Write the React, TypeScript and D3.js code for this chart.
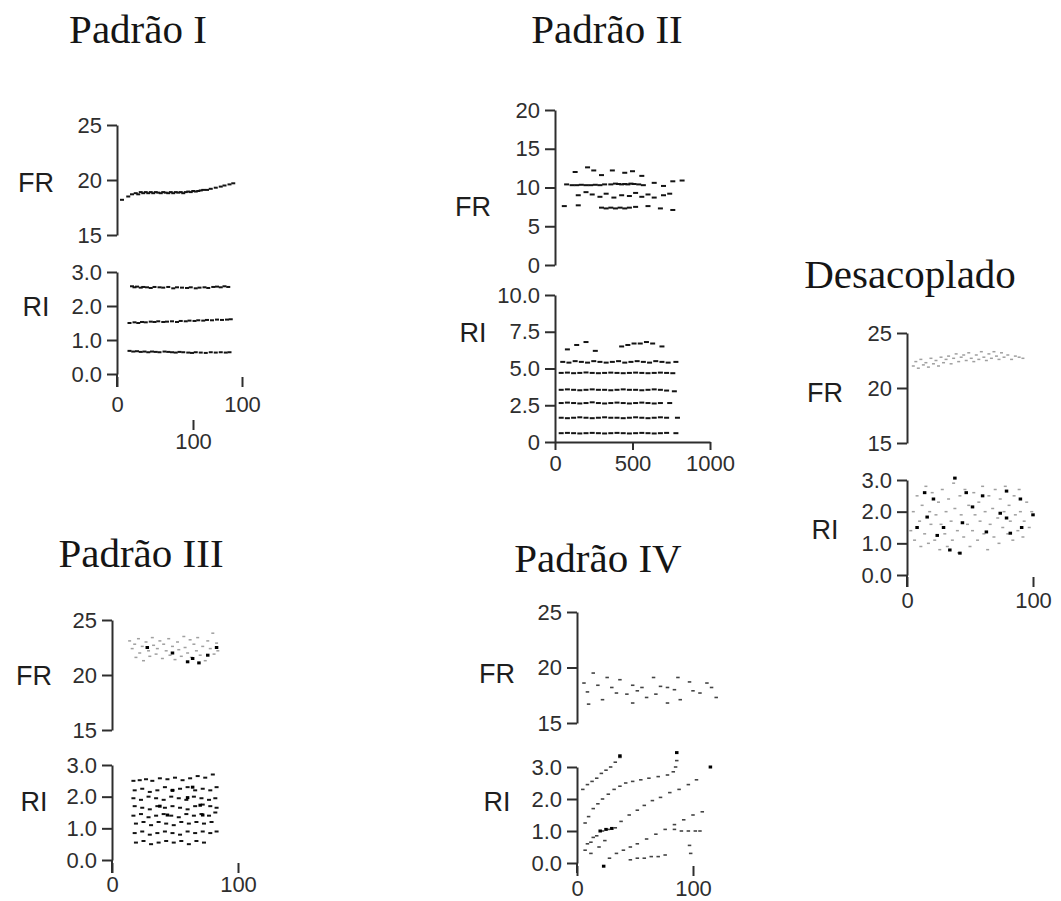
import React, { useEffect, useRef } from "react";
import * as d3 from "d3";

type Pt = [number, number];

// ---------- Padrão I ----------
const p1FR: Pt[] = [
  [4, 18.2], [9, 18.5], [12, 18.7], [15, 18.8], [17, 18.7], [19, 18.9], [21, 18.8], [23, 18.9], [25, 18.8],
  [27, 18.9], [29, 18.8], [31, 18.9], [33, 18.85], [35, 18.8], [37, 18.9], [39, 18.85], [41, 18.8], [43, 18.9],
  [45, 18.8], [47, 18.9], [49, 18.85], [51, 18.9], [53, 18.8], [55, 18.9], [57, 18.95], [59, 18.9], [61, 19.0],
  [63, 18.95], [65, 19.0], [67, 19.05], [69, 19.1], [72, 19.1], [75, 19.2], [79, 19.3], [83, 19.4], [86, 19.5],
  [90, 19.6], [93, 19.7],
];
const p1RI: Pt[] = [
  [12, 2.58], [14, 2.55], [16, 2.57], [19, 2.54], [21, 2.56], [24, 2.55], [27, 2.53], [30, 2.56], [34, 2.55],
  [37, 2.54], [41, 2.56], [45, 2.52], [48, 2.55], [52, 2.54], [56, 2.53], [59, 2.55], [63, 2.52], [66, 2.54],
  [70, 2.55], [73, 2.53], [77, 2.56], [80, 2.57], [83, 2.55], [86, 2.58], [89, 2.56],
  [10, 1.5], [14, 1.52], [17, 1.5], [20, 1.53], [23, 1.52], [27, 1.54], [30, 1.53], [33, 1.55], [37, 1.53],
  [40, 1.54], [44, 1.55], [48, 1.53], [51, 1.56], [55, 1.55], [58, 1.57], [62, 1.56], [65, 1.58], [69, 1.57],
  [72, 1.59], [76, 1.58], [80, 1.6], [84, 1.59], [88, 1.6], [91, 1.61],
  [10, 0.68], [13, 0.66], [16, 0.67], [19, 0.65], [22, 0.66], [25, 0.64], [28, 0.66], [31, 0.65], [34, 0.64],
  [38, 0.66], [41, 0.65], [44, 0.64], [47, 0.63], [50, 0.65], [53, 0.64], [57, 0.63], [60, 0.62], [63, 0.64],
  [67, 0.63], [71, 0.62], [75, 0.64], [79, 0.63], [83, 0.64], [87, 0.63], [90, 0.64],
];

// ---------- Padrão II ----------
const p2FR: Pt[] = [
  [75, 10.4], [110, 10.3], [140, 10.3], [170, 10.35], [200, 10.3], [230, 10.3], [260, 10.35], [290, 10.3],
  [320, 10.4], [360, 10.4], [390, 10.5], [410, 10.45], [430, 10.4], [450, 10.45], [470, 10.4], [490, 10.5],
  [510, 10.45], [540, 10.4], [570, 10.3], [640, 10.6], [700, 10.2], [760, 10.8], [820, 10.9],
  [130, 12.0], [210, 12.6], [250, 12.2], [300, 11.6], [370, 12.2], [450, 11.9], [500, 12.1], [560, 11.5],
  [150, 9.0], [200, 9.4], [240, 9.1], [290, 8.8], [330, 9.2], [380, 8.7], [430, 9.0], [480, 8.9], [520, 9.3],
  [560, 8.8], [600, 9.1], [640, 8.7], [700, 9.0], [740, 9.2],
  [60, 7.6], [150, 7.7], [300, 7.4], [330, 7.3], [360, 7.4], [390, 7.3], [420, 7.4], [450, 7.3], [480, 7.4],
  [520, 7.5], [600, 7.6], [680, 7.3], [760, 7.1],
];
const p2RI: Pt[] = [
  [80, 6.3], [140, 6.6], [200, 6.8], [260, 6.2], [430, 6.5], [470, 6.6], [510, 6.7], [550, 6.7], [590, 6.8], [630, 6.7], [690, 6.5],
  [50, 5.45], [90, 5.4], [130, 5.5], [170, 5.45], [210, 5.4], [250, 5.5], [290, 5.45], [330, 5.4], [370, 5.45], [410, 5.5],
  [450, 5.4], [490, 5.45], [530, 5.5], [570, 5.45], [610, 5.4], [650, 5.5], [690, 5.45], [730, 5.4], [780, 5.45],
  [40, 4.7], [80, 4.72], [120, 4.68], [160, 4.7], [200, 4.73], [240, 4.7], [280, 4.68], [320, 4.7], [360, 4.72], [400, 4.7],
  [440, 4.68], [480, 4.7], [520, 4.72], [560, 4.7], [600, 4.68], [640, 4.7], [680, 4.72], [720, 4.7], [760, 4.68],
  [40, 3.55], [80, 3.58], [120, 3.55], [160, 3.52], [200, 3.55], [240, 3.58], [280, 3.55], [320, 3.55], [360, 3.52], [400, 3.55],
  [440, 3.58], [480, 3.55], [520, 3.55], [560, 3.52], [600, 3.55], [640, 3.58], [680, 3.55], [720, 3.5], [770, 3.45],
  [40, 2.65], [80, 2.68], [120, 2.65], [160, 2.62], [200, 2.65], [240, 2.7], [280, 2.65], [320, 2.62], [360, 2.65], [400, 2.68],
  [440, 2.65], [480, 2.62], [520, 2.65], [560, 2.68], [600, 2.65], [640, 2.62], [680, 2.65], [740, 2.65],
  [40, 1.65], [80, 1.62], [120, 1.65], [160, 1.68], [200, 1.65], [240, 1.62], [280, 1.65], [320, 1.68], [360, 1.65], [400, 1.65],
  [440, 1.62], [480, 1.65], [520, 1.68], [560, 1.65], [600, 1.62], [640, 1.65], [680, 1.68], [720, 1.65], [790, 1.65],
  [40, 0.6], [80, 0.62], [120, 0.6], [160, 0.58], [200, 0.6], [240, 0.62], [280, 0.6], [320, 0.58], [360, 0.6], [400, 0.62],
  [440, 0.6], [480, 0.58], [520, 0.6], [560, 0.62], [600, 0.6], [640, 0.58], [680, 0.6], [720, 0.62], [780, 0.6],
];

// ---------- Desacoplado ----------
const dFR: Pt[] = [
  [5, 22.0], [7, 22.4], [9, 21.8], [11, 22.6], [13, 22.1], [15, 22.3], [17, 21.9], [19, 22.7], [21, 22.2], [23, 22.5],
  [25, 22.0], [27, 22.8], [29, 22.3], [31, 22.6], [33, 22.9], [35, 22.2], [37, 22.7], [39, 23.1], [41, 22.4], [43, 22.8],
  [45, 23.0], [47, 22.5], [49, 23.2], [51, 22.7], [53, 22.4], [55, 23.0], [57, 22.6], [59, 23.3], [61, 22.8], [63, 22.5],
  [65, 23.1], [67, 22.7], [69, 23.3], [71, 22.9], [73, 22.6], [75, 23.2], [77, 22.8], [80, 23.0], [83, 22.6], [86, 22.9],
  [89, 22.8], [92, 22.7],
];
const dRIDark: Pt[] = [
  [38, 3.06], [14, 2.6], [21, 2.4], [47, 2.6], [60, 2.5], [79, 2.65], [90, 2.4], [74, 1.95], [79, 1.8], [100, 1.9],
  [29, 1.5], [24, 1.25], [44, 1.65], [63, 1.36], [82, 1.32], [91, 1.5], [8, 1.5], [34, 0.79], [42, 0.69], [16, 1.83],
  [52, 2.15],
];
const dRILight: Pt[] = [
  [3, 1.4], [5, 2.0], [6, 1.1], [8, 2.5], [10, 1.7], [11, 0.9], [12, 2.2], [14, 1.3], [15, 2.8], [17, 1.0], [18, 2.0],
  [19, 1.6], [20, 2.6], [22, 1.1], [23, 1.9], [25, 2.3], [26, 0.8], [27, 1.6], [28, 2.7], [30, 1.3], [31, 2.0], [32, 0.9],
  [33, 2.4], [35, 1.7], [36, 1.1], [37, 2.9], [38, 2.1], [40, 1.4], [41, 0.7], [42, 2.5], [43, 1.9], [45, 1.2], [46, 2.7],
  [48, 1.6], [49, 2.2], [50, 0.9], [52, 1.4], [53, 2.6], [54, 1.9], [56, 1.1], [57, 2.3], [58, 1.7], [60, 2.8], [61, 1.3],
  [62, 2.0], [64, 0.8], [65, 2.5], [66, 1.6], [68, 2.1], [69, 1.2], [70, 2.7], [72, 1.8], [73, 1.0], [74, 2.4], [76, 1.5],
  [77, 2.0], [78, 2.8], [80, 1.3], [81, 2.2], [82, 1.7], [84, 1.1], [85, 2.5], [86, 1.9], [88, 1.4], [89, 2.7], [90, 2.0],
  [92, 1.2], [93, 1.7], [95, 2.3], [97, 1.5], [99, 2.0],
];

// ---------- Padrão III ----------
const p3FRDark: Pt[] = [[64, 21.5], [76, 21.8], [60, 21.2], [28, 22.5], [48, 22.0], [83, 22.5], [69, 21.1]];
const p3FR: Pt[] = [
  [14, 23.1], [16, 22.4], [18, 22.8], [19, 21.6], [21, 23.3], [22, 22.0], [24, 22.6], [25, 21.3], [27, 23.0], [29, 22.2],
  [30, 21.7], [32, 23.4], [33, 22.7], [35, 21.9], [36, 22.4], [38, 23.1], [40, 21.5], [41, 22.8], [43, 22.2], [45, 23.3],
  [46, 21.8], [48, 22.6], [50, 21.4], [52, 23.0], [53, 22.3], [55, 21.7], [57, 23.5], [58, 22.5], [60, 22.0], [62, 23.2],
  [63, 21.6], [65, 22.8], [67, 22.2], [68, 23.4], [70, 21.8], [72, 22.6], [74, 21.3], [76, 23.1], [78, 22.4], [80, 23.8],
  [81, 21.9], [83, 22.9], [84, 22.2],
];
const p3RIDark: Pt[] = [[70, 1.73], [48, 2.2], [44, 1.42], [72, 1.42], [60, 1.97], [38, 1.7], [64, 2.3]];
const p3RI: Pt[] = [
  [17, 2.5], [22, 2.52], [27, 2.55], [32, 2.5], [38, 2.58], [44, 2.55], [50, 2.6], [56, 2.52], [62, 2.58], [68, 2.65], [74, 2.6], [80, 2.7],
  [18, 2.2], [24, 2.25], [30, 2.15], [36, 2.2], [42, 2.3], [48, 2.2], [54, 2.25], [60, 2.3], [66, 2.2], [72, 2.25], [78, 2.2], [83, 2.3],
  [17, 1.95], [23, 1.9], [29, 2.0], [35, 1.95], [41, 1.9], [47, 2.0], [53, 1.95], [59, 1.9], [65, 2.0], [71, 1.95], [77, 1.9], [82, 1.95],
  [18, 1.7], [24, 1.65], [30, 1.6], [36, 1.7], [42, 1.65], [48, 1.7], [54, 1.65], [60, 1.6], [66, 1.7], [72, 1.75], [78, 1.7], [83, 1.65],
  [17, 1.4], [23, 1.45], [29, 1.35], [35, 1.4], [41, 1.45], [47, 1.4], [53, 1.35], [59, 1.45], [65, 1.4], [71, 1.45], [77, 1.4], [82, 1.5],
  [19, 1.15], [25, 1.2], [31, 1.1], [37, 1.2], [43, 1.15], [49, 1.1], [55, 1.2], [61, 1.15], [67, 1.2], [73, 1.15], [79, 1.2],
  [18, 0.85], [24, 0.9], [30, 0.8], [36, 0.85], [42, 0.9], [48, 0.85], [54, 0.8], [60, 0.9], [66, 0.85], [72, 0.9], [78, 0.85], [83, 0.9],
  [19, 0.55], [25, 0.6], [31, 0.5], [37, 0.55], [43, 0.6], [49, 0.55], [55, 0.6], [61, 0.5], [67, 0.6], [73, 0.55],
];

// ---------- Padrão IV ----------
const p4FR: Pt[] = [
  [14, 19.5], [26, 19.1], [37, 18.9], [48, 18.4], [56, 18.2], [66, 19.1], [72, 18.3], [78, 18.2], [87, 19.1], [97, 18.7],
  [106, 17.7], [112, 18.6], [120, 17.3], [48, 16.8], [60, 17.3], [78, 16.8], [89, 17.1], [9, 17.8], [10, 16.7], [34, 17.7],
  [43, 17.6], [22, 17.1], [18, 18.4], [30, 18.2], [52, 17.9], [68, 17.6], [84, 18.0], [100, 17.9], [116, 18.2], [6, 18.6],
];
const p4RI: Pt[] = [
  // upper-left line
  [5, 2.3], [9, 2.45], [13, 2.55], [17, 2.65], [21, 2.8], [25, 2.9], [29, 3.0], [33, 3.15], [37, 3.3],
  // second line
  [7, 1.25], [10, 1.45], [14, 1.7], [18, 1.85], [22, 2.0], [27, 2.15], [32, 2.3], [37, 2.4], [42, 2.5], [48, 2.55],
  [55, 2.6], [62, 2.65], [70, 2.7], [78, 2.75], [83, 2.85], [85, 3.0], [86, 3.2],
  // third line
  [7, 0.4], [12, 0.65], [17, 0.85], [22, 1.0], [27, 1.05], [33, 1.1], [38, 1.3], [45, 1.5], [52, 1.65], [58, 1.8],
  [65, 1.95], [72, 2.05], [80, 2.2], [88, 2.3], [96, 2.45], [103, 2.6],
  // fourth line
  [28, 0.15], [34, 0.3], [40, 0.4], [46, 0.5], [52, 0.6], [60, 0.75], [68, 0.9], [76, 1.05], [84, 1.2], [92, 1.35],
  [100, 1.5], [108, 1.6],
  // flat clusters
  [84, 1.05], [90, 1.0], [96, 1.0], [102, 1.0], [106, 1.0],
  [46, 0.1], [52, 0.15], [58, 0.15], [64, 0.2], [70, 0.2], [76, 0.25],
  [9, 0.6], [14, 0.8], [19, 0.5], [24, 0.7], [12, 0.3], [97, 0.55], [98, 0.3],
];
const p4RIDark: Pt[] = [[23, -0.1], [115, 3.0], [86, 3.45], [37, 3.35], [25, 1.05], [30, 1.08], [20, 1.0]];

const SANS = "'Liberation Sans', Arial, Helvetica, sans-serif";
const SERIF = "'Liberation Serif', 'Times New Roman', serif";

type Kind = "n" | "w" | "l" | "s" | "d";
type Layer = { pts: Pt[]; kind: Kind };
type Panel = {
  title: string; titleX: number; titleY: number;
  ax: number; xEnd: number; xMax: number;
  frDomain: [number, number]; frTicks: number[]; frTop: number; frBot: number;
  riMax: number; riTicks: number[]; riTop: number; riZero: number; riBottom: number;
  labelX: number; frLabelY: number; riLabelY: number;
  xAxisY: number; xTicks: number[]; xLine: boolean; xPad: number;
  riFmt: (d: number) => string;
  fr: Layer[]; ri: Layer[];
  alt?: { end: number; y: number };
};

const f1 = d3.format(".1f");

const panels: Panel[] = [
  {
    title: "Padrão I", titleX: 138, titleY: 43,
    ax: 117, xEnd: 242, xMax: 100,
    frDomain: [15, 25], frTicks: [15, 20, 25], frTop: 125, frBot: 235,
    riMax: 3, riTicks: [0, 1, 2, 3], riTop: 272, riZero: 374, riBottom: 387,
    labelX: 36, frLabelY: 182, riLabelY: 306,
    xAxisY: 377, xTicks: [0, 100], xLine: false, xPad: 9,
    riFmt: f1,
    fr: [{ pts: p1FR, kind: "n" }], ri: [{ pts: p1RI, kind: "n" }],
    alt: { end: 193, y: 420 },
  },
  {
    title: "Padrão II", titleX: 607, titleY: 43,
    ax: 555, xEnd: 710, xMax: 1000,
    frDomain: [0, 20], frTicks: [0, 5, 10, 15, 20], frTop: 110, frBot: 265,
    riMax: 10, riTicks: [0, 2.5, 5, 7.5, 10], riTop: 295, riZero: 442, riBottom: 442,
    labelX: 473, frLabelY: 206, riLabelY: 332,
    xAxisY: 442, xTicks: [0, 500, 1000], xLine: true, xPad: 5,
    riFmt: (d) => (d === 0 ? "0" : f1(d)),
    fr: [{ pts: p2FR, kind: "w" }], ri: [{ pts: p2RI, kind: "w" }],
  },
  {
    title: "Desacoplado", titleX: 910, titleY: 288,
    ax: 907, xEnd: 1033, xMax: 100,
    frDomain: [15, 25], frTicks: [15, 20, 25], frTop: 333, frBot: 443,
    riMax: 3, riTicks: [0, 1, 2, 3], riTop: 480, riZero: 575, riBottom: 587,
    labelX: 825, frLabelY: 392, riLabelY: 529,
    xAxisY: 577, xTicks: [0, 100], xLine: false, xPad: 5,
    riFmt: f1,
    fr: [{ pts: dFR, kind: "l" }], ri: [{ pts: dRILight, kind: "l" }, { pts: dRIDark, kind: "d" }],
  },
  {
    title: "Padrão III", titleX: 141, titleY: 567,
    ax: 112, xEnd: 238, xMax: 100,
    frDomain: [15, 25], frTicks: [15, 20, 25], frTop: 620, frBot: 730,
    riMax: 3, riTicks: [0, 1, 2, 3], riTop: 765, riZero: 860, riBottom: 873,
    labelX: 34, frLabelY: 675, riLabelY: 801,
    xAxisY: 863, xTicks: [0, 100], xLine: false, xPad: 3,
    riFmt: f1,
    fr: [{ pts: p3FR, kind: "l" }, { pts: p3FRDark, kind: "d" }],
    ri: [{ pts: p3RI, kind: "n" }, { pts: p3RIDark, kind: "d" }],
  },
  {
    title: "Padrão IV", titleX: 598, titleY: 572,
    ax: 577, xEnd: 693, xMax: 100,
    frDomain: [15, 25], frTicks: [15, 20, 25], frTop: 612, frBot: 723,
    riMax: 3, riTicks: [0, 1, 2, 3], riTop: 767, riZero: 863, riBottom: 873,
    labelX: 497, frLabelY: 673, riLabelY: 801,
    xAxisY: 866, xTicks: [0, 100], xLine: false, xPad: 4,
    riFmt: f1,
    fr: [{ pts: p4FR, kind: "s" }], ri: [{ pts: p4RI, kind: "s" }, { pts: p4RIDark, kind: "d" }],
  },
];

const markStyle: Record<Kind, { w: number; h: number; fill: string }> = {
  n: { w: 4, h: 2, fill: "#141414" },
  w: { w: 5, h: 2, fill: "#141414" },
  s: { w: 3.5, h: 1.6, fill: "#444" },
  l: { w: 3, h: 1.5, fill: "#a0a0a0" },
  d: { w: 3.5, h: 3, fill: "#000" },
};

function styleAxis(g: d3.Selection<SVGGElement, unknown, null, undefined>) {
  g.attr("font-family", null).attr("font-size", null);
  g.selectAll(".domain").attr("stroke", "#2e2e2e").attr("stroke-width", 2);
  g.selectAll(".tick line").attr("stroke", "#2e2e2e").attr("stroke-width", 2);
  g.selectAll(".tick text")
    .attr("fill", "#2e2e2e")
    .style("font-family", SANS)
    .style("font-size", "22px");
}

export default function App() {
  const ref = useRef<SVGSVGElement>(null);

  useEffect(() => {
    const svg = d3.select(ref.current);
    svg.selectAll("*").remove();

    panels.forEach((p) => {
      const g = svg.append("g");
      const x = d3.scaleLinear().domain([0, p.xMax]).range([p.ax, p.xEnd]);
      const yFR = d3.scaleLinear().domain(p.frDomain).range([p.frBot, p.frTop]);
      const yRI = d3.scaleLinear().domain([0, p.riMax]).range([p.riZero, p.riTop]);

      g.append("text")
        .attr("x", p.titleX).attr("y", p.titleY)
        .attr("text-anchor", "middle")
        .style("font-family", SERIF).style("font-size", "41px").attr("fill", "#151515")
        .text(p.title);

      [["FR", p.frLabelY], ["RI", p.riLabelY]].forEach(([t, yy]) => {
        g.append("text")
          .attr("x", p.labelX).attr("y", yy as number)
          .attr("dy", "0.36em").attr("text-anchor", "middle")
          .style("font-family", SANS).style("font-size", "27px").attr("fill", "#1e1e1e")
          .text(t as string);
      });

      // FR axis
      const gFR = g.append("g").attr("transform", `translate(${p.ax},0)`)
        .call(d3.axisLeft(yFR).tickValues(p.frTicks).tickSize(10).tickSizeOuter(0).tickPadding(5).tickFormat(d3.format("d")));
      styleAxis(gFR);

      // RI axis
      const gRI = g.append("g").attr("transform", `translate(${p.ax},0)`)
        .call(d3.axisLeft(yRI).tickValues(p.riTicks).tickSize(10).tickSizeOuter(0).tickPadding(5).tickFormat((d) => p.riFmt(+d)));
      styleAxis(gRI);
      if (p.riBottom > p.riZero) {
        g.append("line").attr("x1", p.ax).attr("x2", p.ax).attr("y1", p.riZero).attr("y2", p.riBottom)
          .attr("stroke", "#2e2e2e").attr("stroke-width", 2);
      }

      // X axis
      const gX = g.append("g").attr("transform", `translate(0,${p.xAxisY})`)
        .call(d3.axisBottom(x).tickValues(p.xTicks).tickSize(p.xLine ? 8 : 10).tickSizeOuter(0).tickPadding(p.xPad).tickFormat(d3.format("d")));
      styleAxis(gX);
      if (!p.xLine) gX.select(".domain").remove();

      if (p.alt) {
        const xa = d3.scaleLinear().domain([0, p.xMax]).range([p.ax, p.alt.end]);
        const gA = g.append("g").attr("transform", `translate(0,${p.alt.y})`)
          .call(d3.axisBottom(xa).tickValues([100]).tickSize(10).tickPadding(3).tickFormat(d3.format("d")));
        styleAxis(gA);
        gA.select(".domain").remove();
      }

      const drawLayer = (layer: Layer, ys: d3.ScaleLinear<number, number>) => {
        const s = markStyle[layer.kind];
        g.append("g").selectAll("rect").data(layer.pts).enter().append("rect")
          .attr("x", (d) => x(d[0]) - s.w / 2)
          .attr("y", (d) => ys(d[1]) - s.h / 2)
          .attr("width", s.w).attr("height", s.h)
          .attr("fill", s.fill);
      };
      p.fr.forEach((l) => drawLayer(l, yFR));
      p.ri.forEach((l) => drawLayer(l, yRI));
    });
  }, []);

  return (
    <svg ref={ref} width={1061} height={901}
      style={{ position: "absolute", left: 0, top: 0, background: "#fff" }} />
  );
}
